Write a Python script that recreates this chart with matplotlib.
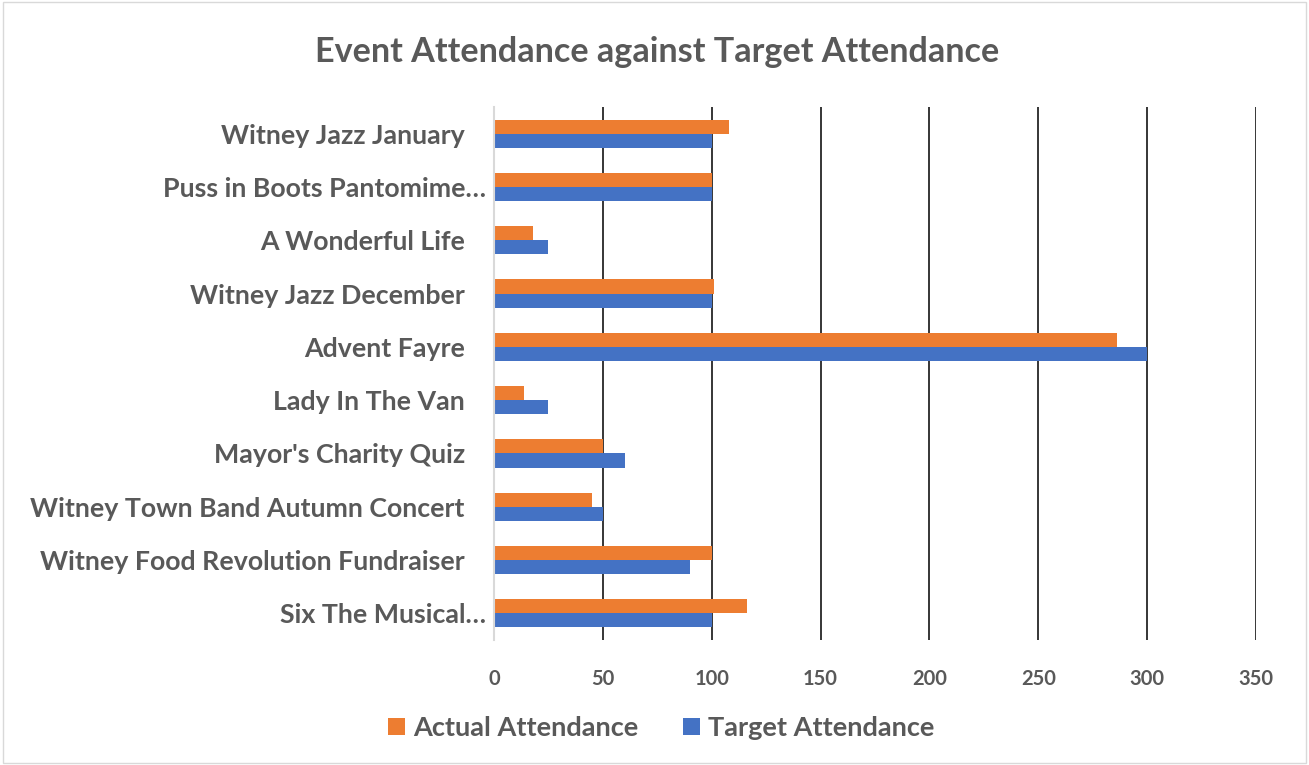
import matplotlib.pyplot as plt
from matplotlib.patches import Rectangle
import matplotlib.transforms as mtransforms

plt.rcParams['font.family'] = ['Lato', 'DejaVu Sans']

# events, top to bottom as shown in the chart
events = ['Witney Jazz January', 'Puss in Boots Pantomime…', 'A Wonderful Life',
          'Witney Jazz December', 'Advent Fayre', 'Lady In The Van',
          "Mayor's Charity Quiz", 'Witney Town Band Autumn Concert',
          'Witney Food Revolution Fundraiser', 'Six The Musical…']
actual = [108, 100, 18, 101, 286, 14, 50, 45, 100, 116]
target = [100, 100, 25, 100, 300, 25, 60, 50, 90, 100]
xticks = [0, 50, 100, 150, 200, 250, 300, 350]

TXT = '#595959'
ORANGE = '#ED7D31'
BLUE = '#4472C4'

fig = plt.figure(figsize=(13.09, 7.65), dpi=100)
fig.patches.append(Rectangle((0.002, 0.002), 0.996, 0.996, transform=fig.transFigure,
                             fill=False, edgecolor='#D9D9D9', linewidth=1))
ax = fig.add_axes([494/1309, 1-640/765, (1256-494)/1309, (640-107)/765])

n = len(events)
ypos = [n - 1 - i for i in range(n)]
h = 0.265
ax.barh([y + h/2 for y in ypos], actual, height=h, color=ORANGE, label='Actual Attendance')
ax.barh([y - h/2 for y in ypos], target, height=h, color=BLUE, label='Target Attendance')

ax.set_xlim(0, 350)
ax.set_ylim(-0.5, n - 0.5)
ax.set_xticks(xticks)
ax.set_xticklabels([str(t) for t in xticks], fontsize=14.5, fontweight='bold', color=TXT)
ax.set_yticks(ypos)
ax.set_yticklabels(events, fontsize=19.3, fontweight='bold', color=TXT)
ax.tick_params(axis='both', length=0)
ax.tick_params(axis='x', pad=21)
ax.tick_params(axis='y', pad=6)
# labels that were not cut short keep a trailing gap before the axis
for lab in ax.get_yticklabels():
    if not lab.get_text().endswith('…'):
        off = mtransforms.ScaledTranslation(-21/100, 0, fig.dpi_scale_trans)
        lab.set_transform(lab.get_transform() + off)

ax.grid(axis='x', color='black', linewidth=1.1)
ax.set_axisbelow(True)
for s in ['top', 'right', 'bottom']:
    ax.spines[s].set_visible(False)
ax.spines['left'].set_color('#D9D9D9')
ax.spines['left'].set_linewidth(1.5)
ax.spines['left'].set_zorder(3)

fig.text(0.502, 1-52/765, 'Event Attendance against Target Attendance', ha='center', va='center',
         fontsize=24.6, fontweight='bold', color=TXT)

leg = fig.legend(loc='center', bbox_to_anchor=(661/1309, 1-728/765), ncol=2, frameon=False,
                 handlelength=0.63, handleheight=0.63, handletextpad=0.3, columnspacing=1.65,
                 prop={'size': 19.5, 'weight': 'bold'})
for t in leg.get_texts():
    t.set_color(TXT)

fig.savefig('out.png', dpi=100)
